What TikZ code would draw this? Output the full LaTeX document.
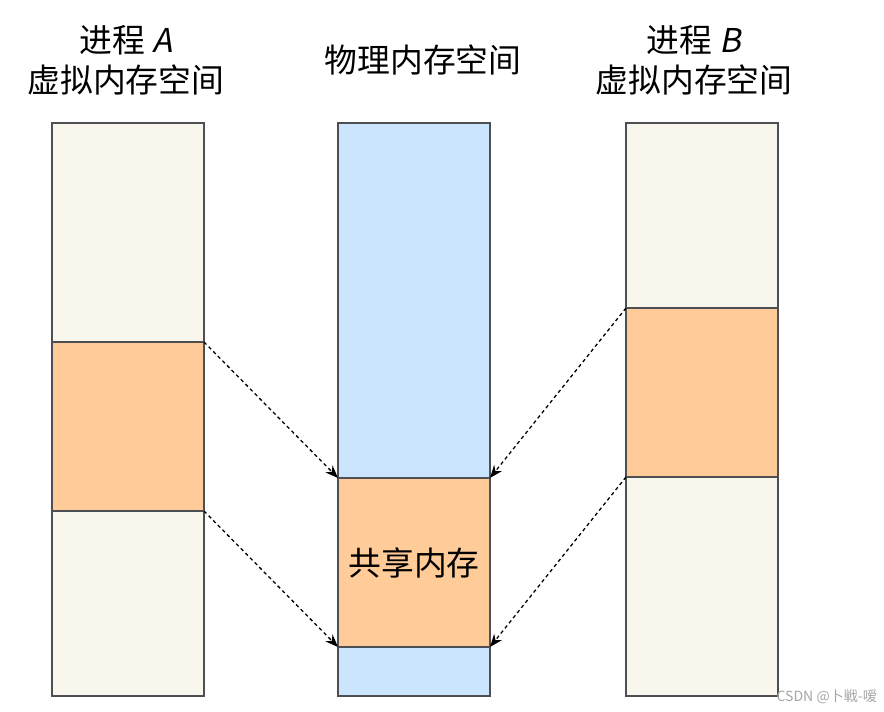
\documentclass[tikz,border=0pt]{standalone}
\usepackage{fontspec}
\setmainfont{Noto Sans CJK SC}
\newfontfamily\slantfont[FakeSlant=0.2]{Noto Sans CJK SC}
\usetikzlibrary{positioning,arrows.meta}
\definecolor{beige}{HTML}{F9F7ED}
\definecolor{peach}{HTML}{FFCC99}
\definecolor{skyblue}{HTML}{CCE5FF}
\definecolor{edge}{HTML}{4D4F52}
\begin{document}
\begin{tikzpicture}[x=0.03cm, y=-0.03cm,
    seg/.style={draw=edge, line width=1.2pt, minimum width=4.56cm,
      inner sep=0pt, outer sep=0pt},
    link/.style={dash pattern=on 3pt off 2.6pt, line width=1.1pt,
      -{Stealth[length=11pt, width=8.5pt]}},
    title/.style={font=\fontsize{28}{34}\selectfont, align=center}]
  \useasboundingbox (0,0) rectangle (884,712);

  %% -- Process A virtual memory ---------------------------
  \node[seg, fill=beige, minimum height=6.57cm, anchor=north] (aTop) at (128,123) {};
  \node[seg, fill=peach, minimum height=5.07cm, below=0pt of aTop] (aShared) {};
  \node[seg, fill=beige, minimum height=5.55cm, below=0pt of aShared] (aBot) {};

  %% -- Physical memory ------------------------------------
  \node[seg, fill=skyblue, minimum height=10.65cm, anchor=north] (pTop) at (414,123) {};
  \node[seg, fill=peach, minimum height=5.07cm, below=0pt of pTop,
    font=\fontsize{28}{32}\selectfont] (pShared) {共享内存};
  \node[seg, fill=skyblue, minimum height=1.47cm, below=0pt of pShared] (pBot) {};

  %% -- Process B virtual memory ---------------------------
  \node[seg, fill=beige, minimum height=5.55cm, anchor=north] (bTop) at (702,123) {};
  \node[seg, fill=peach, minimum height=5.07cm, below=0pt of bTop] (bShared) {};
  \node[seg, fill=beige, minimum height=6.57cm, below=0pt of bShared] (bBot) {};

  %% -- Titles ---------------------------------------------
  \node[title] (aTitle) at (126,60) {进程 {\slantfont A}\\虚拟内存空间};
  \node[title] (pTitle) at (423,60) {物理内存空间};
  \node[title] (bTitle) at (694,60) {进程 {\slantfont B}\\虚拟内存空间};

  %% -- Mappings -------------------------------------------
  \draw[link] (aShared.north east) -- (pShared.north west);
  \draw[link] (aShared.south east) -- (pShared.south west);
  \draw[link] (bShared.north west) -- (pShared.north east);
  \draw[link] (bShared.south west) -- (pShared.south east);

  %% -- Watermark ------------------------------------------
  \node[gray!70, font=\fontsize{12}{14}\selectfont, anchor=east] (mark) at (881,697) {CSDN @卜戦-嗳};
\end{tikzpicture}
\end{document}
